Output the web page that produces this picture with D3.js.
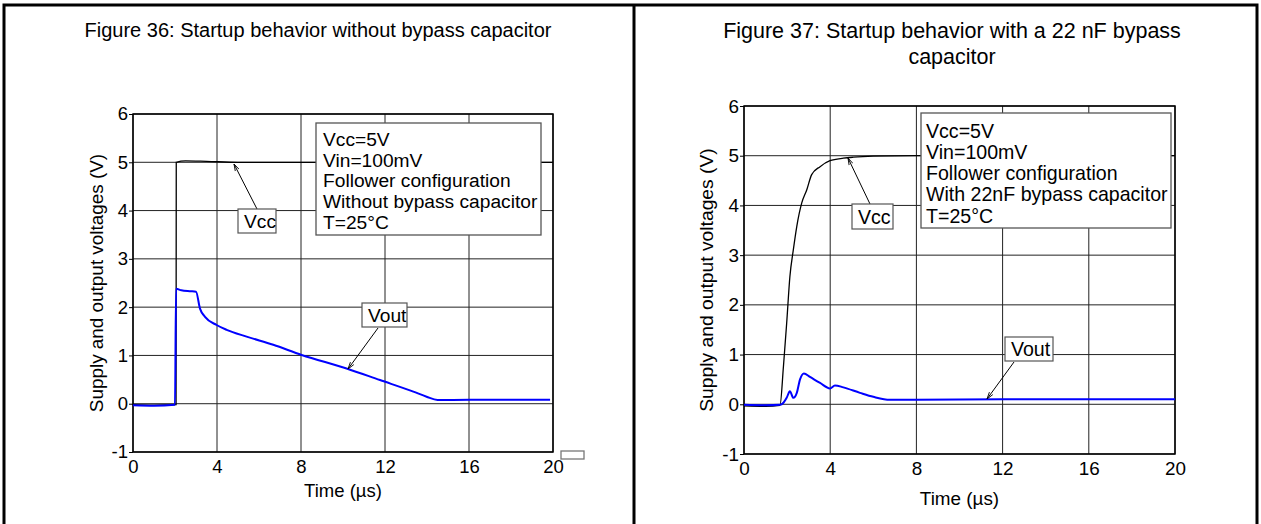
<!DOCTYPE html>
<html>
<head>
<meta charset="utf-8">
<script src="https://cdn.jsdelivr.net/npm/d3@7"></script>
<style>
  body { margin: 0; background: #fff; }
  svg { display: block; font-family: "Liberation Sans", Arial, sans-serif; }
</style>
</head>
<body>
<div id="chart"></div>
<script>
// shared axes
const xTicks = [0, 4, 8, 12, 16, 20];
const yTicks = [-1, 0, 1, 2, 3, 4, 5, 6];

// Figure 36 - no bypass capacitor
const fig36Vcc = [
  [0, -0.02], [1.0, -0.03], [2.05, -0.02], [2.06, 5.0], [2.5, 5.03], [3.5, 5.02],
  [5, 5.0], [8, 5.0], [12, 5.0], [16, 5.0], [20, 5.0]
];
const fig36Vout = [
  [0, -0.03], [1.0, -0.04], [2.0, -0.02], [2.05, 2.38], [2.3, 2.35], [2.7, 2.33],
  [3.0, 2.32], [3.19, 1.97], [3.43, 1.80], [3.98, 1.63], [4.46, 1.53], [5.41, 1.39],
  [6.68, 1.22], [8.03, 1.01], [10.17, 0.73], [11.76, 0.49], [13.35, 0.25],
  [13.98, 0.145], [14.5, 0.077], [16, 0.08], [18, 0.08], [19.86, 0.08]
];
const fig36Notes = ["Vcc=5V", "Vin=100mV", "Follower configuration", "Without bypass capacitor", "T=25°C"];

// Figure 37 - 22 nF bypass capacitor
const fig37Vcc = [
  [0, -0.03], [1.0, -0.04], [1.67, -0.02], [1.83, 0.76], [1.98, 1.63], [2.13, 2.57],
  [2.29, 3.11], [2.45, 3.58], [2.68, 4.05], [2.91, 4.31], [3.14, 4.62], [3.53, 4.78],
  [3.99, 4.90], [4.61, 4.95], [5.07, 4.97], [6, 4.99], [8, 5.0], [12, 5.0], [16, 5.0], [20, 5.0]
];
const fig37Vout = [
  [0, -0.01], [1.0, -0.02], [1.67, -0.01], [1.83, 0.03], [1.98, 0.13], [2.13, 0.26],
  [2.29, 0.13], [2.45, 0.23], [2.6, 0.5], [2.78, 0.62], [3.06, 0.55], [3.53, 0.43],
  [3.99, 0.32], [4.22, 0.38], [4.61, 0.34], [5.38, 0.23], [6.0, 0.15], [6.77, 0.09],
  [8, 0.09], [12, 0.1], [16, 0.1], [20, 0.1]
];
const fig37Notes = ["Vcc=5V", "Vin=100mV", "Follower configuration", "With 22nF bypass capacitor", "T=25°C"];

const W = 1261, H = 524;
const svg = d3.select("#chart").append("svg").attr("width", W).attr("height", H);

// page frame (open at the bottom)
svg.append("path").attr("d", "M4," + H + "V5H" + (W - 4) + "V" + H)
   .attr("fill", "none").attr("stroke", "#000").attr("stroke-width", 3);
svg.append("line").attr("x1", 634).attr("x2", 634).attr("y1", 5).attr("y2", H)
   .attr("stroke", "#000").attr("stroke-width", 3);

const panels = [
  {
    title: ["Figure 36: Startup behavior without bypass capacitor"], titleX: 318, titleY: 37, titleSize: 20,
    left: 133, right: 553, top: 114, bottom: 452, fs: 1,
    vcc: fig36Vcc, vout: fig36Vout, notes: fig36Notes,
    box: [316, 123, 225, 112], textX: 323, textY0: 146, lineH: 20.7,
    vccBox: [238, 209, 38, 24], vccArrow: [257, 209, 234, 164],
    voutBox: [362, 303, 45, 24], voutArrow: [378, 328, 348, 369],
    ylabX: 96, xlabY: 497, extraBox: true
  },
  {
    title: ["Figure 37: Startup behavior with a 22 nF bypass", "capacitor"], titleX: 952, titleY: 38, titleSize: 21.5,
    left: 744, right: 1175, top: 106, bottom: 454, fs: 1.02,
    vcc: fig37Vcc, vout: fig37Vout, notes: fig37Notes,
    box: [921, 113, 250, 115], textX: 926, textY0: 137.5, lineH: 21.3,
    vccBox: [852, 204, 41, 25], vccArrow: [870, 204, 848, 158],
    voutBox: [1005, 337, 48, 24], voutArrow: [1014, 362, 987, 399],
    ylabX: 706, xlabY: 505, extraBox: false
  }
];

svg.append("defs").append("marker")
   .attr("id", "arrow").attr("viewBox", "0 0 10 10").attr("refX", 10).attr("refY", 5)
   .attr("markerWidth", 7).attr("markerHeight", 7).attr("orient", "auto")
   .append("path").attr("d", "M0,2L10,5L0,8").attr("fill", "none").attr("stroke", "#000").attr("stroke-width", 1.2);

panels.forEach(p => drawPanel(p));

function drawPanel(p) {
  let x = d3.scaleLinear().domain([0, 20]).range([p.left, p.right]);
  let y = d3.scaleLinear().domain([-1, 6]).range([p.bottom, p.top]);
  let fs = v => (v * p.fs) + "px";

  let g = svg.append("g");

  p.title.forEach((t, i) => {
    g.append("text").attr("x", p.titleX).attr("y", p.titleY + i * 26)
     .attr("text-anchor", "middle").style("font-size", p.titleSize + "px").text(t);
  });

  // grid
  g.append("g").selectAll("line").data(xTicks).enter().append("line")
   .attr("x1", d => x(d)).attr("x2", d => x(d)).attr("y1", p.top).attr("y2", p.bottom)
   .attr("stroke", "#222").attr("stroke-width", 1);
  g.append("g").selectAll("line").data(yTicks).enter().append("line")
   .attr("x1", p.left).attr("x2", p.right).attr("y1", d => y(d)).attr("y2", d => y(d))
   .attr("stroke", "#222").attr("stroke-width", 1);

  // axes
  g.append("g").attr("transform", "translate(0," + p.bottom + ")")
   .style("font-size", fs(18.5))
   .call(d3.axisBottom(x).tickValues(xTicks).tickSize(0).tickPadding(8).tickFormat(d => String(d)))
   .call(a => a.select(".domain").remove());
  g.append("g").attr("transform", "translate(" + p.left + ",0)")
   .style("font-size", fs(18.5))
   .call(d3.axisLeft(y).tickValues(yTicks).tickSize(4).tickPadding(1).tickFormat(d => String(d)))
   .call(a => a.select(".domain").remove());
  g.selectAll(".tick text").attr("fill", "#000").style("font-family", "Liberation Sans, Arial, sans-serif");

  g.append("rect").attr("x", p.left).attr("y", p.top)
   .attr("width", p.right - p.left).attr("height", p.bottom - p.top)
   .attr("fill", "none").attr("stroke", "#000").attr("stroke-width", 1.5);

  let line = d3.line().x(d => x(d[0])).y(d => y(d[1])).curve(d3.curveMonotoneX);
  g.append("path").datum(p.vcc).attr("d", line)
   .attr("fill", "none").attr("stroke", "#000").attr("stroke-width", 1.3);
  g.append("path").datum(p.vout).attr("d", line)
   .attr("fill", "none").attr("stroke", "#0000ff").attr("stroke-width", 2);

  // notes box
  g.append("rect").attr("x", p.box[0]).attr("y", p.box[1]).attr("width", p.box[2]).attr("height", p.box[3])
   .attr("fill", "#fff").attr("stroke", "#555").attr("stroke-width", 1.3);
  p.notes.forEach((t, i) => {
    g.append("text").attr("x", p.textX).attr("y", p.textY0 + i * p.lineH)
     .style("font-size", fs(19.2)).text(t);
  });

  // callouts
  [[p.vccBox, p.vccArrow, "Vcc"], [p.voutBox, p.voutArrow, "Vout"]].forEach(c => {
    let b = c[0], a = c[1];
    g.append("line").attr("x1", a[0]).attr("y1", a[1]).attr("x2", a[2]).attr("y2", a[3])
     .attr("stroke", "#000").attr("stroke-width", 1).attr("marker-end", "url(#arrow)");
    let cg = g.append("g");
    let cid = "clip" + p.left + c[2];
    svg.select("defs").append("clipPath").attr("id", cid)
       .append("rect").attr("x", b[0]).attr("y", b[1]).attr("width", b[2]).attr("height", b[3]);
    cg.append("rect").attr("x", b[0]).attr("y", b[1]).attr("width", b[2]).attr("height", b[3])
      .attr("fill", "#fff").attr("stroke", "#555").attr("stroke-width", 1.2);
    cg.append("text").attr("x", b[0] + 6).attr("y", b[1] + b[3] / 2 + 7)
      .attr("clip-path", "url(#" + cid + ")").style("font-size", fs(19.2)).text(c[2]);
  });

  if (p.extraBox) {
    g.append("rect").attr("x", 561).attr("y", 451).attr("width", 23).attr("height", 8)
     .attr("fill", "#fff").attr("stroke", "#777").attr("stroke-width", 1.3);
  }

  g.append("text").attr("transform", "translate(" + p.ylabX + "," + ((p.top + p.bottom) / 2) + ") rotate(-90)")
   .attr("text-anchor", "middle").attr("dy", "0.35em").style("font-size", fs(18.9))
   .text("Supply and output voltages (V)");
  g.append("text").attr("x", (p.left + p.right) / 2).attr("y", p.xlabY)
   .attr("text-anchor", "middle").style("font-size", fs(18.5)).text("Time (µs)");
}
</script>
</body>
</html>
